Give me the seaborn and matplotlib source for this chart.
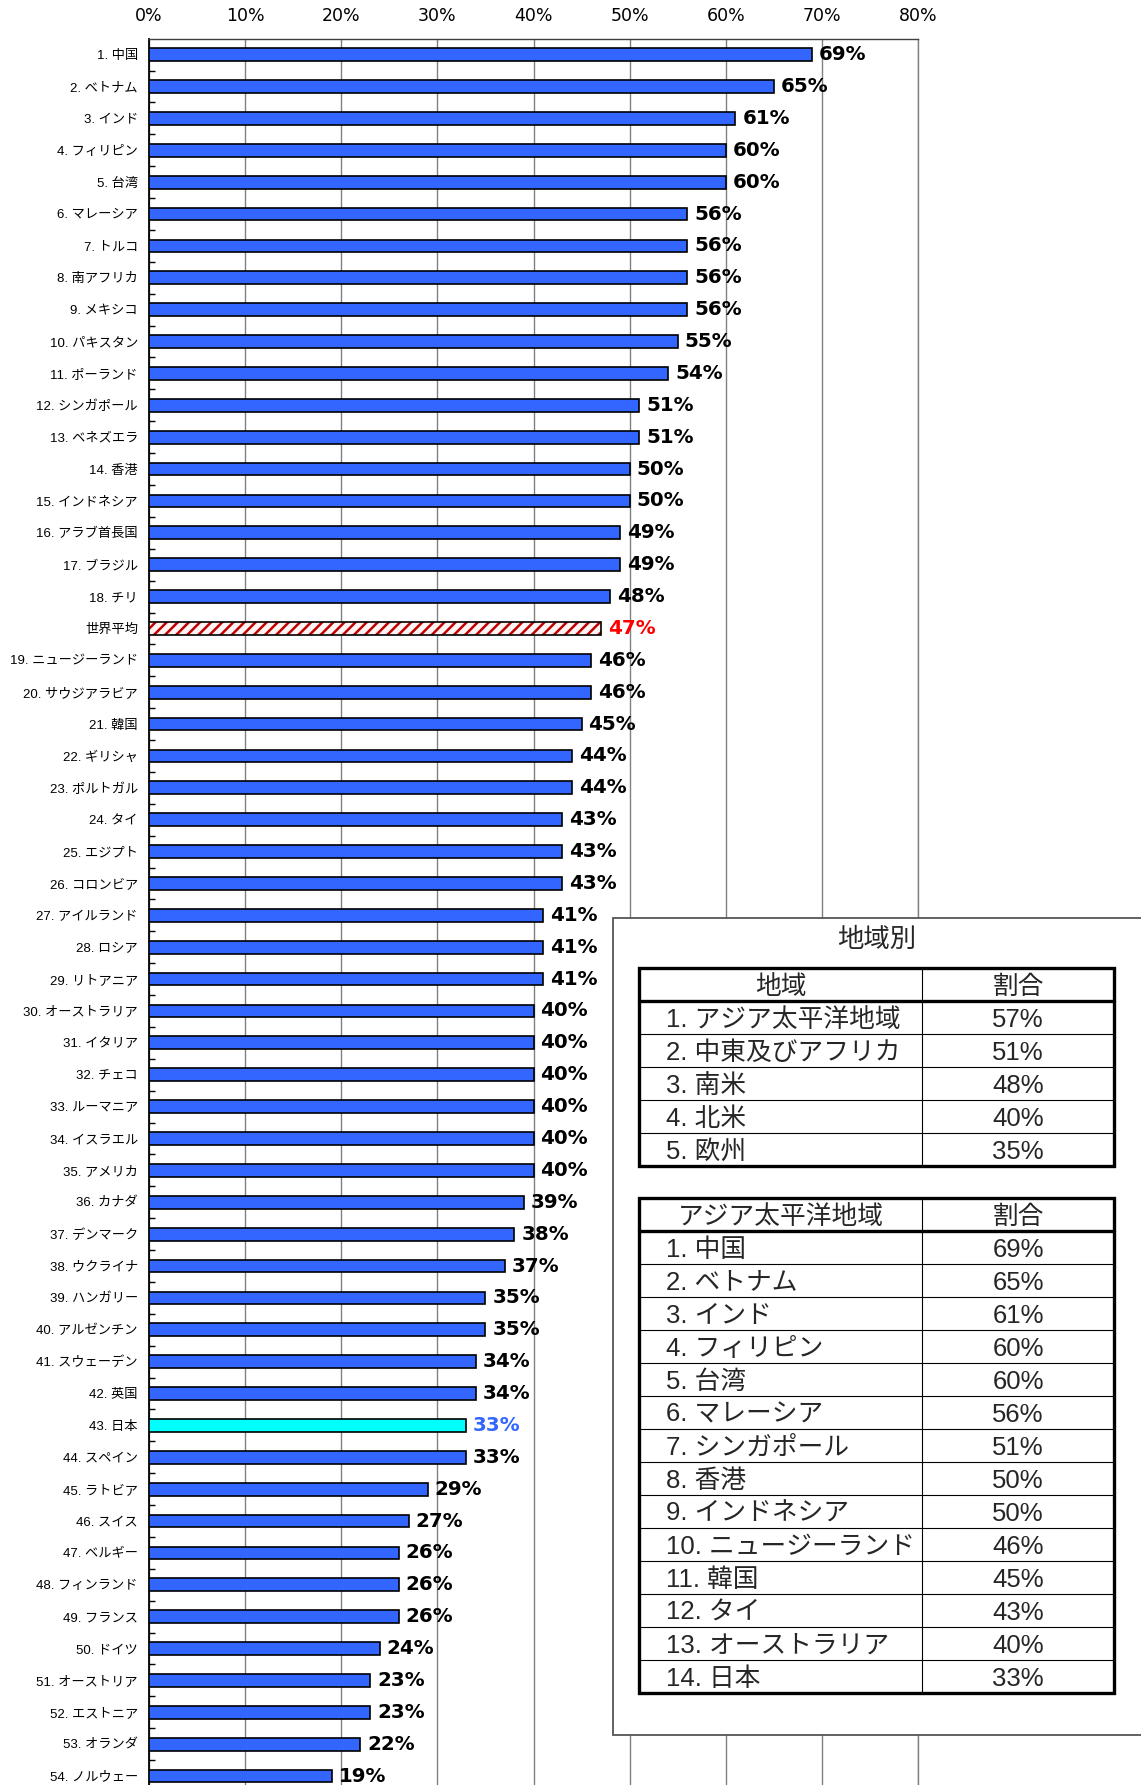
import matplotlib
matplotlib.use("Agg")
import numpy as np
import pandas as pd
import seaborn as sns
import matplotlib.pyplot as plt
from matplotlib.patches import Rectangle
from matplotlib.ticker import MultipleLocator, FixedLocator, FuncFormatter

countries = [
    "1. 中国", "2. ベトナム", "3. インド", "4. フィリピン", "5. 台湾",
    "6. マレーシア", "7. トルコ", "8. 南アフリカ", "9. メキシコ", "10. パキスタン",
    "11. ポーランド", "12. シンガポール", "13. ベネズエラ", "14. 香港", "15. インドネシア",
    "16. アラブ首長国", "17. ブラジル", "18. チリ", "世界平均", "19. ニュージーランド",
    "20. サウジアラビア", "21. 韓国", "22. ギリシャ", "23. ポルトガル", "24. タイ",
    "25. エジプト", "26. コロンビア", "27. アイルランド", "28. ロシア", "29. リトアニア",
    "30. オーストラリア", "31. イタリア", "32. チェコ", "33. ルーマニア", "34. イスラエル",
    "35. アメリカ", "36. カナダ", "37. デンマーク", "38. ウクライナ", "39. ハンガリー",
    "40. アルゼンチン", "41. スウェーデン", "42. 英国", "43. 日本", "44. スペイン",
    "45. ラトビア", "46. スイス", "47. ベルギー", "48. フィンランド", "49. フランス",
    "50. ドイツ", "51. オーストリア", "52. エストニア", "53. オランダ", "54. ノルウェー",
]
values = [
    69, 65, 61, 60, 60, 56, 56, 56, 56, 55,
    54, 51, 51, 50, 50, 49, 49, 48, 47, 46,
    46, 45, 44, 44, 43, 43, 43, 41, 41, 41,
    40, 40, 40, 40, 40, 40, 39, 38, 37, 35,
    35, 34, 34, 33, 33, 29, 27, 26, 26, 26,
    24, 23, 23, 22, 19,
]
AVERAGE = "世界平均"
JAPAN = "43. 日本"

region_header = ["地域", "割合"]
regions = ["1. アジア太平洋地域", "2. 中東及びアフリカ", "3. 南米", "4. 北米", "5. 欧州"]
region_values = [57, 51, 48, 40, 35]

asia_header = ["アジア太平洋地域", "割合"]
asia = [
    "1. 中国", "2. ベトナム", "3. インド", "4. フィリピン", "5. 台湾",
    "6. マレーシア", "7. シンガポール", "8. 香港", "9. インドネシア",
    "10. ニュージーランド", "11. 韓国", "12. タイ", "13. オーストラリア", "14. 日本",
]
asia_values = [69, 65, 61, 60, 60, 56, 51, 50, 50, 46, 45, 43, 40, 33]

BLUE = "#3366FF"
CYAN = "#00FFFF"
RED = "#FF0000"
HATCH_RED = "#C00000"

sns.set_style("white")
plt.rcParams["font.family"] = ["Liberation Sans", "Noto Sans CJK JP"]
plt.rcParams["hatch.linewidth"] = 1.8

df = pd.DataFrame({"label": countries, "value": values})
palette = {}
for c in countries:
    if c == JAPAN:
        palette[c] = CYAN
    elif c == AVERAGE:
        palette[c] = "#FFF4F4"
    else:
        palette[c] = BLUE

W, H = 1141, 1785
fig = plt.figure(figsize=(W / 100, H / 100), dpi=100)
top_px, bot_px, left_px, right_px = 38.7, 1792, 149, 918
ax = fig.add_axes([left_px / W, 1 - bot_px / H, (right_px - left_px) / W, (bot_px - top_px) / H])

sns.barplot(data=df, x="value", y="label", hue="label", palette=palette, legend=False,
            orient="h", width=0.4, edgecolor="black", linewidth=1.2, saturation=1,
            ax=ax, zorder=3)

for p in list(ax.patches):
    idx = int(round(p.get_y() + p.get_height() / 2))
    name = countries[idx]
    v = values[idx]
    color = "black"
    if name == AVERAGE:
        p.set_hatch("///")
        p.set_edgecolor(HATCH_RED)
        p.set_linewidth(0)
        ax.add_patch(Rectangle(p.get_xy(), p.get_width(), p.get_height(), fill=False,
                               ec="black", lw=1.2, zorder=4))
        color = RED
    elif name == JAPAN:
        color = BLUE
    ax.annotate(f"{v}%", (p.get_width(), idx), xytext=(5, 0), textcoords="offset points",
                ha="left", va="center", fontsize=14.3, fontweight="bold", color=color,
                family="DejaVu Sans")

n = len(countries)
ax.set_xlim(0, 80)
ax.set_ylim(n - 0.5, -0.5)
ax.xaxis.set_major_locator(MultipleLocator(10))
ax.xaxis.set_major_formatter(FuncFormatter(lambda v, _: f"{v:.0f}%"))
ax.xaxis.tick_top()
ax.tick_params(axis="x", length=0, pad=10, labelsize=12.5, colors="black")
for t in ax.get_xticklabels():
    t.set_family("DejaVu Sans")
ax.grid(axis="x", color="#808080", lw=1)
ax.grid(axis="y", visible=False)
ax.set_axisbelow(True)
ax.yaxis.set_minor_locator(FixedLocator(np.arange(0.5, n - 0.5, 1)))
ax.tick_params(axis="y", which="major", length=0, pad=8, labelsize=9.5, colors="black")
ax.tick_params(axis="y", which="minor", left=True, direction="in", length=4, width=1, color="black")
ax.set_xlabel("")
ax.set_ylabel("")
ax.spines["left"].set_color("black")
ax.spines["left"].set_linewidth(1.3)
ax.spines["top"].set_color("#404040")
ax.spines["top"].set_linewidth(1)
ax.spines["right"].set_color("#808080")
ax.spines["right"].set_linewidth(1)
ax.spines["bottom"].set_visible(False)

# inset with the two tables, drawn in pixel coordinates
ax2 = fig.add_axes([0, 0, 1, 1], zorder=5)
ax2.set_xlim(0, W)
ax2.set_ylim(H, 0)
ax2.axis("off")
ax2.add_patch(Rectangle((613, 918), 560, 817, fc="white", ec="#555555", lw=1.3))
ax2.text(877, 940, "地域別", ha="center", va="center", fontsize=19)


def draw_table(top, header, names, vals):
    rh = 33
    x0, x1, xm = 639, 1114, 922
    rows = len(names) + 1
    bottom = top + rows * rh
    for i in range(2, rows):
        ax2.plot([x0, x1], [top + i * rh] * 2, color="black", lw=0.8)
    ax2.plot([xm, xm], [top, bottom], color="black", lw=0.8)
    ax2.plot([x0, x1], [top + rh] * 2, color="black", lw=2.4)
    ax2.add_patch(Rectangle((x0, top), x1 - x0, rows * rh, fill=False, ec="black", lw=2.4))
    ax2.text((x0 + xm) / 2, top + rh / 2 + 2, header[0], ha="center", va="center", fontsize=18.5)
    ax2.text((xm + x1) / 2, top + rh / 2 + 2, header[1], ha="center", va="center", fontsize=18.5)
    for i, (nm, v) in enumerate(zip(names, vals)):
        y = top + (i + 1.5) * rh + 2
        ax2.text(666, y, nm, ha="left", va="center", fontsize=18.5)
        ax2.text((xm + x1) / 2, y, f"{v}%", ha="center", va="center", fontsize=18.5)


draw_table(968, region_header, regions, region_values)
draw_table(1198, asia_header, asia, asia_values)

fig.savefig("out.png", dpi=100)
